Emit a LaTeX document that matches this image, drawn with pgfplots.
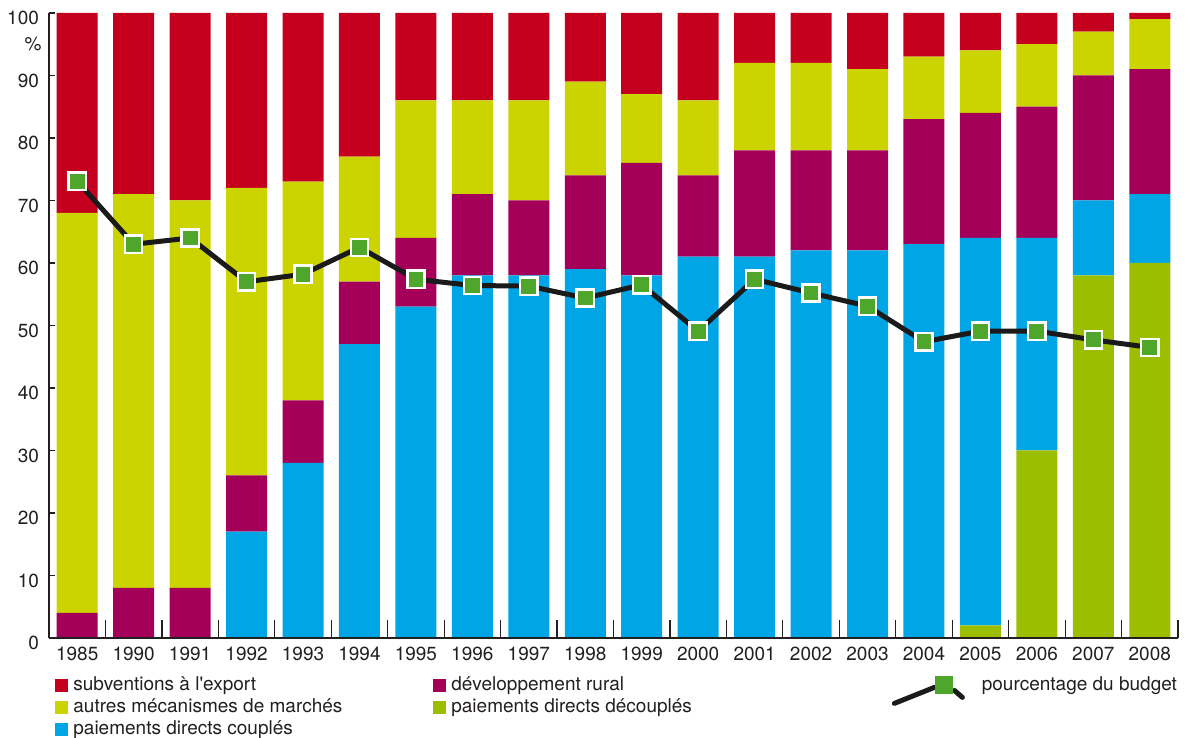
\documentclass[border=0pt]{standalone}
\usepackage{pgfplots}
\pgfplotsset{compat=1.18}
\usepackage{pgfplotstable}
\usepackage{fontspec}
\setmainfont{TeX Gyre Heros}
\definecolor{cred}{RGB}{196,0,30}
\definecolor{cyel}{RGB}{203,212,0}
\definecolor{cpur}{RGB}{164,0,90}
\definecolor{cblu}{RGB}{0,165,230}
\definecolor{cgrn}{RGB}{155,190,0}
\definecolor{cmark}{RGB}{78,167,42}
\definecolor{cline}{RGB}{26,26,26}
\definecolor{ctext}{RGB}{35,31,32}

\pgfplotstableread{
x  dec coup rur aut exp pct
0  0   0    4   64  32  73.1
1  0   0    8   63  29  63.0
2  0   0    8   62  30  64.0
3  0   17   9   46  28  57.0
4  0   28   10  35  27  58.2
5  0   47   10  20  23  62.5
6  0   53   11  22  14  57.4
7  0   58   13  15  14  56.4
8  0   58   12  16  14  56.3
9  0   59   15  15  11  54.4
10 0   58   18  11  13  56.5
11 0   61   13  12  14  49.1
12 0   61   17  14  8   57.4
13 0   62   16  14  8   55.2
14 0   62   16  13  9   53.1
15 0   63   20  10  7   47.4
16 2   62   20  10  6   49.1
17 30  34   21  10  5   49.1
18 58  12   20  7   3   47.7
19 60  11   20  8   1   46.5
}\data

\begin{document}
\begin{tikzpicture}[font=\fontsize{9.5}{11.4}\selectfont, text=ctext]
\useasboundingbox (-24.5pt,-50pt) rectangle (570pt,319pt);
\begin{axis}[
  at={(0,0)}, anchor=south west,
  width=564.5pt, height=312.5pt, scale only axis,
  xmin=-0.5, xmax=19.5, ymin=0, ymax=100,
  clip=false, axis on top,
  ybar stacked, bar width=20.5pt,
  axis x line*=bottom, axis y line*=left,
  axis line style={ctext, line width=0.6pt},
  xtick={-0.5,0.5,...,19.5},
  x tick label as interval,
  xticklabels={1985,1990,1991,1992,1993,1994,1995,1996,1997,1998,1999,2000,2001,2002,2003,2004,2005,2006,2007,2008},
  xticklabel style={yshift=-1pt},
  major tick length=3pt,
  xtick style={/pgfplots/major tick length=9pt},
  tick align=inside,
  tick style={ctext, line width=0.6pt},
  ytick={0,10,...,100},
  yticklabel style={xshift=-1.5pt, yshift=-2.5pt},
  /pgf/number format/assume math mode=true,
  legend columns=2,
  legend style={at={(0,0)}, anchor=north west, xshift=3pt, yshift=-19pt,
    draw=none, fill=none, inner sep=0pt,
    nodes={inner xsep=2.5pt, inner ysep=0pt, text height=7pt, text depth=2pt},
    row sep=2pt,
    /tikz/every even column/.append style={column sep=43pt}},
  legend cell align=left,
  legend image code/.code={\fill[#1] (0pt,-3.25pt) rectangle (6.5pt,3.25pt);},
]
\addplot[fill=cgrn, draw=none, forget plot] table[x=x,y=dec]{\data};
\addplot[fill=cblu, draw=none, forget plot] table[x=x,y=coup]{\data};
\addplot[fill=cpur, draw=none, forget plot] table[x=x,y=rur]{\data};
\addplot[fill=cyel, draw=none, forget plot] table[x=x,y=aut]{\data};
\addplot[fill=cred, draw=none, forget plot] table[x=x,y=exp]{\data};
\addlegendimage{fill=cred, draw=none}
\addlegendentry{subventions à l\textquotesingle export}
\addlegendimage{fill=cpur, draw=none}
\addlegendentry{développement rural}
\addlegendimage{fill=cyel, draw=none}
\addlegendentry{autres mécanismes de marchés}
\addlegendimage{fill=cgrn, draw=none}
\addlegendentry{paiements directs découplés}
\addlegendimage{fill=cblu, draw=none}
\addlegendentry{paiements directs couplés}
\node[anchor=center] at (rel axis cs:0,1) [xshift=-8pt, yshift=-15.5pt] {\%};
\end{axis}
\begin{axis}[
  at={(0,0)}, anchor=south west,
  width=564.5pt, height=312.5pt, scale only axis,
  xmin=-0.5, xmax=19.5, ymin=0, ymax=100,
  hide axis,
  legend style={at={(0.7462,0)}, anchor=north west, yshift=-19pt,
    draw=none, fill=none, inner sep=0pt,
    nodes={inner xsep=2.5pt, inner ysep=0pt, text height=7pt, text depth=2pt}},
  legend cell align=left,
  legend image code/.code={
    \draw[line width=2.5pt, cline, line cap=round] (-25pt,-9pt) -- (-5pt,-1pt);
    \draw[line width=2.5pt, cline, line cap=round] (5pt,-2.5pt) -- (9pt,-6pt);
    \fill[cmark] (-3.25pt,-3.25pt) rectangle (3.25pt,3.25pt);
    \path (15pt,0pt);
  },
]
\addplot[cline, line width=2.5pt, mark=square*, mark size=4.3pt,
  mark options={fill=cmark, draw=white, line width=1.2pt}]
  table[x=x,y=pct]{\data};
\addlegendentry{pourcentage du budget}
\end{axis}
\end{tikzpicture}
\end{document}
